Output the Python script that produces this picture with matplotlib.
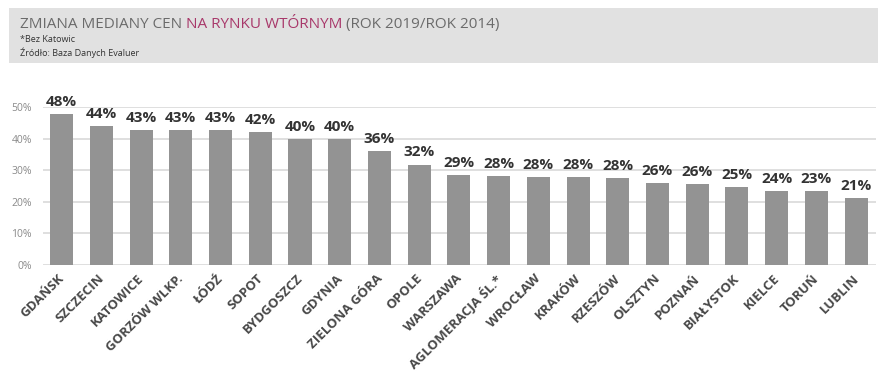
import matplotlib.pyplot as plt
import matplotlib.transforms as mtransforms
from matplotlib.patches import Rectangle

# City names and median price change (rok 2019 / rok 2014), in percent
cities = ['GDAŃSK', 'SZCZECIN', 'KATOWICE', 'GORZÓW WLKP.', 'ŁÓDŹ', 'SOPOT',
          'BYDGOSZCZ', 'GDYNIA', 'ZIELONA GÓRA', 'OPOLE', 'WARSZAWA',
          'AGLOMERACJA ŚL.*', 'WROCŁAW', 'KRAKÓW', 'RZESZÓW', 'OLSZTYN',
          'POZNAŃ', 'BIAŁYSTOK', 'KIELCE', 'TORUŃ', 'LUBLIN']
values = [47.8, 43.9, 42.6, 42.6, 42.6, 42.2, 40.0, 40.0, 36.1, 31.8, 28.6,
          28.3, 27.9, 27.9, 27.6, 25.8, 25.5, 24.7, 23.5, 23.3, 21.2]
labels = ['48%', '44%', '43%', '43%', '43%', '42%', '40%', '40%', '36%', '32%',
          '29%', '28%', '28%', '28%', '28%', '26%', '26%', '25%', '24%', '23%', '21%']
yticks = [0, 10, 20, 30, 40, 50]

plt.rcParams['font.family'] = ['Open Sans', 'DejaVu Sans']

fig = plt.figure(figsize=(8.91, 3.78), dpi=100)

# grey header band
fig.patches.append(Rectangle((9 / 891, 1 - 63 / 378), 869 / 891, 55 / 378,
                             transform=fig.transFigure, facecolor='#e1e1e1',
                             edgecolor='none', zorder=0))

# title in three coloured pieces
ty = 1 - 28 / 378
t1 = fig.text(20 / 891, ty, 'ZMIANA MEDIANY CEN', color='#6b6b6b',
              fontsize=11, va='baseline')
fig.canvas.draw()
x2 = t1.get_window_extent().x1 + 4
t2 = fig.text(x2 / 891, ty, 'NA RYNKU WTÓRNYM', color='#a8386a',
              fontsize=11, va='baseline')
fig.canvas.draw()
x3 = t2.get_window_extent().x1 + 4
fig.text(x3 / 891, ty, '(ROK 2019/ROK 2014)', color='#6b6b6b',
         fontsize=11, va='baseline')

fig.text(20 / 891, 1 - 42 / 378, '*Bez Katowic', color='#333333', fontsize=6.5)
fig.text(20 / 891, 1 - 56 / 378, 'Źródło: Baza Danych Evaluer', color='#333333', fontsize=6.5)

ax = fig.add_axes([43 / 891, 1 - 265 / 378, 833 / 891, 158 / 378])
x = range(len(cities))
ax.bar(x, values, width=0.58, color='#939393', zorder=2)

for xi, v, lab in zip(x, values, labels):
    ax.text(xi, v + 1.6, lab, ha='center', va='bottom', fontsize=11,
            fontweight='bold', color='#333333', clip_on=False)

ax.set_xlim(-0.47, 20.5)
ax.set_ylim(0, 50)
ax.set_yticks(yticks)
ax.set_yticklabels([f'{t}%' for t in yticks], color='#8a8a8a', fontsize=7.5)
ax.yaxis.grid(True, color='#d9d9d9', linewidth=1.2, zorder=0)
ax.set_axisbelow(True)
ax.tick_params(axis='y', length=0, pad=8)
ax.tick_params(axis='x', length=0, pad=5)
ax.set_xticks(list(x))
ax.set_xticklabels(cities, rotation=45, ha='right', rotation_mode='anchor',
                   fontsize=9.5, fontweight='bold', color='#484848')
shift = mtransforms.ScaledTranslation(-4 / 100, 0, fig.dpi_scale_trans)
for lab in ax.get_xticklabels():
    lab.set_transform(lab.get_transform() + shift)
for s in ax.spines.values():
    s.set_visible(False)

fig.savefig('out.png', dpi=100)
